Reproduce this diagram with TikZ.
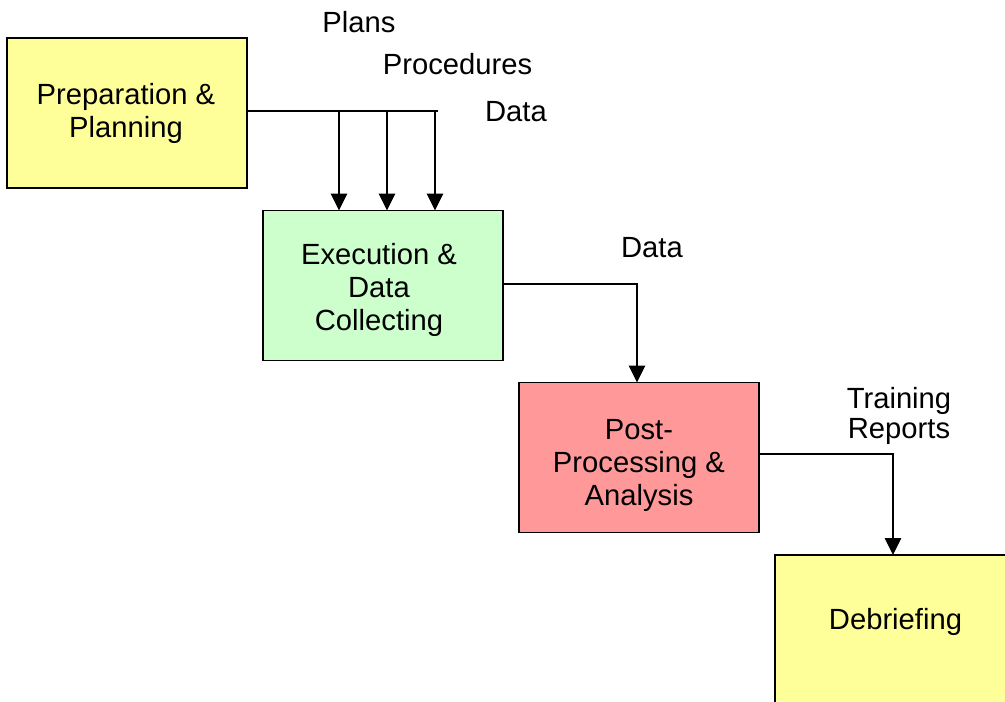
\documentclass[tikz,border=0pt]{standalone}
\usepackage{fontspec}
\setmainfont{Liberation Sans}
\usetikzlibrary{arrows.meta,calc}
\definecolor{pyellow}{HTML}{FFFF99}
\definecolor{pgreen}{HTML}{CCFFCC}
\definecolor{ppink}{HTML}{FF9999}
\begin{document}
\begin{tikzpicture}[x=1pt,y=-1pt,
  box/.style={draw=black,line width=1.6pt,minimum width=240pt,minimum height=150pt,
    inner sep=0pt,outer sep=0pt},
  btxt/.style={inner sep=0pt,anchor=base,align=center,font=\fontsize{29.2}{33}\selectfont},
  lbl/.style={inner sep=0pt,anchor=base,align=center,font=\fontsize{29.2}{30}\selectfont},
  conn/.style={line width=1.3pt,draw=black},
  arr/.style={conn,-{Triangle[width=16.5pt,length=17pt]}}]
\useasboundingbox (0,0) rectangle (1005,702);
\begin{scope}
\clip (0,0) rectangle (1005,702);
\node[box,fill=pyellow] (prep) at (127,113) {};
\node[box,fill=pgreen] (exec) at (383,285.5) {};
\node[box,fill=ppink] (post) at (639,457.5) {};
\node[box,fill=pyellow,minimum width=244pt] (debr) at (897,630) {};
\end{scope}
\node[btxt] (preptxt) at (126,137) {Preparation \&\\Planning};
\node[btxt] (exectxt) at (379,330) {Execution \&\\Data\\Collecting};
\node[btxt] (posttxt) at (639,505) {Post-\\Processing \&\\Analysis};
\node[btxt] (debrtxt) at (895.5,629) {Debriefing};
% labels
\node[lbl] (lplans) at (359,32) {Plans};
\node[lbl] (lproc) at (457.5,74) {Procedures};
\node[lbl] (ldata1) at (516,121) {Data};
\node[lbl] (ldata2) at (652,257) {Data};
\node[lbl] (ltrain) at (899,438) {Training\\Reports};
% connectors
\coordinate (jend) at (438,111);
\draw[conn] (prep.east |- jend) -- (jend);
\coordinate (j1) at (339,111);
\coordinate (j2) at (387,111);
\coordinate (j3) at (435,111);
\draw[arr] (j1) -- (j1 |- exec.north);
\draw[arr] (j2) -- (j2 |- exec.north);
\draw[arr] (j3) -- (j3 |- exec.north);
\coordinate (c1) at (637,284);
\draw[arr] (exec.east |- c1) -- (c1) -- (c1 |- post.north);
\coordinate (c2) at (893,454);
\draw[arr] (post.east |- c2) -- (c2) -- (c2 |- debr.north);
\end{tikzpicture}
\end{document}
